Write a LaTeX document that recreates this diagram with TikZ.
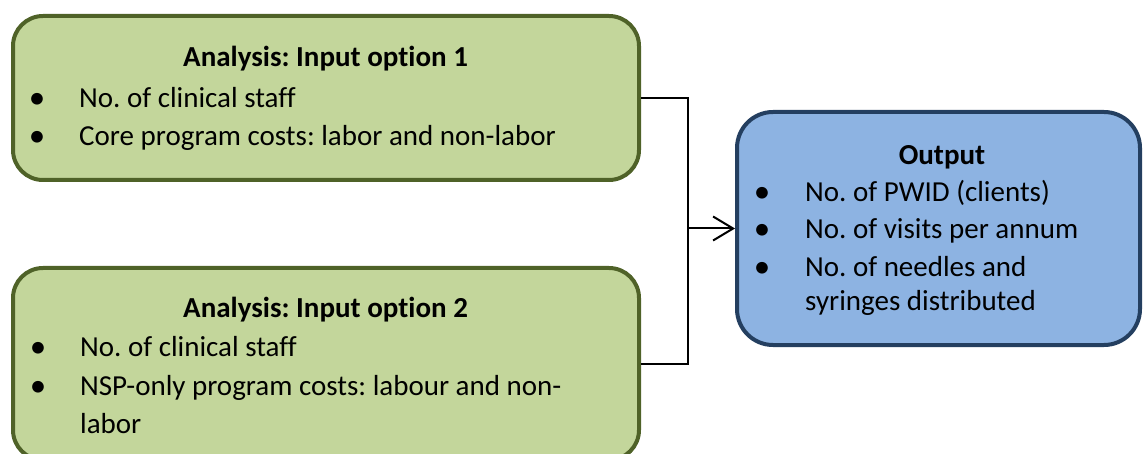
\documentclass[tikz,border=0pt]{standalone}
\usepackage{fontspec}
\setmainfont{Carlito}[Ligatures=NoCommon]
\usepackage{xcolor}
\usepackage{tikz}
\usetikzlibrary{arrows.meta,positioning}
\frenchspacing

\definecolor{boxgreen}{HTML}{C3D69B}
\definecolor{edgegreen}{HTML}{4F6228}
\definecolor{boxblue}{HTML}{8DB3E2}
\definecolor{edgeblue}{HTML}{243F60}

\begin{document}
\begin{tikzpicture}[x=1pt, y=-1pt,
                          inbox/.style={draw=edgegreen, fill=boxgreen, line width=4pt, rounded corners=30pt, minimum width=626pt, inner sep=0pt},
                          outbox/.style={draw=edgeblue, fill=boxblue, line width=4pt, rounded corners=36pt, minimum width=403pt, minimum height=233pt, inner sep=0pt},
                          boxtitle/.style={font=\fontsize{29}{35}\selectfont\bfseries, anchor=base, inner sep=0pt},
                          itemtext/.style={font=\fontsize{29}{35}\selectfont, anchor=base west, inner sep=0pt},
                          itemdot/.style={font=\fontsize{33}{35}\selectfont, anchor=base, inner sep=0pt},
                          link/.style={line width=2pt, black},
                         ]

\useasboundingbox (0,0) rectangle (1143,454);

% boxes
\node[inbox, minimum height=164pt] (opt1) at (326,98) {};
\node[inbox, minimum height=192pt] (opt2) at (326,364) {};
\node[outbox] (out) at (938.5,228.5) {};

% input option 1
\node[boxtitle] (opt1title) at (325.5,67) {Analysis: Input option 1};
\node[itemdot] (opt1dota) at (37,109) {•};
\node[itemtext] (opt1a) at (79,108) {No. of clinical staff};
\node[itemdot] (opt1dotb) at (37,147) {•};
\node[itemtext] (opt1b) at (79,146) {Core program costs: labor and non-labor};

% input option 2
\node[boxtitle] (opt2title) at (325.5,317) {Analysis: Input option 2};
\node[itemdot] (opt2dota) at (38,357) {•};
\node[itemtext] (opt2a) at (80,356) {No. of clinical staff};
\node[itemdot] (opt2dotb) at (38,396) {•};
\node[itemtext] (opt2b) at (80,395) {NSP-only program costs: labour and non-};
\node[itemtext] (opt2c) at (80,433) {labor};

% output
\node[boxtitle] (outtitle) at (942,165) {Output};
\node[itemdot] (outdota) at (762,203) {•};
\node[itemtext] (outa) at (805,202) {No. of PWID (clients)};
\node[itemdot] (outdotb) at (762,240) {•};
\node[itemtext] (outb) at (805,239) {No. of visits per annum};
\node[itemdot] (outdotc) at (762,278) {•};
\node[itemtext] (outc) at (805,277) {No. of needles and};
\node[itemtext] (outd) at (805,310) {syringes distributed};

% connectors
\coordinate (join) at (688,228.5);
\draw[link] (opt1.east) -| (join);
\draw[link] (opt2.east) -| (join);
\draw[link, -{Straight Barb[length=20pt, width=24pt, line width=2pt]}] (join) -- (out.west);

\end{tikzpicture}
\end{document}
